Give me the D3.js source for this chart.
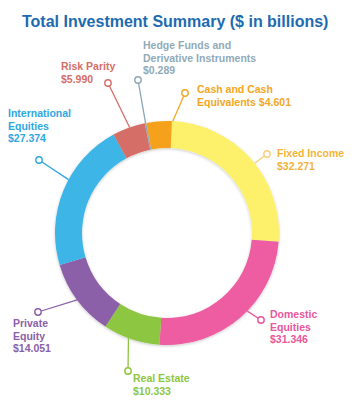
<!DOCTYPE html>
<html>
<head>
<meta charset="utf-8">
<script src="https://cdn.jsdelivr.net/npm/d3@7/dist/d3.min.js"></script>
<style>
  html, body { margin: 0; padding: 0; background: #fff; }
  svg { display: block; font-family: "Liberation Sans", Arial, sans-serif; }
</style>
</head>
<body>
<svg id="chart" width="360" height="403"></svg>
<script>
// ---- data ----
const title = "Total Investment Summary ($ in billions)";
const categories = ["Fixed Income", "Domestic Equities", "Real Estate", "Private Equity",
  "International Equities", "Risk Parity", "Hedge Funds and Derivative Instruments", "Cash and Cash Equivalents"];
const values = [32.271, 31.346, 10.333, 14.051, 27.374, 5.990, 0.289, 4.601];
const labelLines = [
  ["Fixed Income"],
  ["Domestic", "Equities"],
  ["Real Estate"],
  ["Private", "Equity"],
  ["International", "Equities"],
  ["Risk Parity"],
  ["Hedge Funds and", "Derivative Instruments"],
  ["Cash and Cash", "Equivalents"]
];
// value placement: true = own line, false = appended to last label line
const valueOnOwnLine = [true, true, true, true, true, true, true, false];

// ---- styles ----
const sliceColors = ["#FDF16C", "#EE5BA1", "#8DC63F", "#8B60A9", "#3CB6E7", "#D46E66", "#8FA9B5", "#F6A11C"];
const textColors  = ["#F5B335", "#E9579C", "#8DC63F", "#8B60A9", "#2EA8DF", "#D46E66", "#91AAB8", "#F5A623"];
const lineColors  = ["#F6CE7A", "#E9579C", "#8DC63F", "#8B60A9", "#2EA8DF", "#D46E66", "#8AA6B4", "#F5A623"];

// ---- layout ----
const cx = 167, cy = 233, outerR = 112, innerR = 85;
const startDeg = 2.5;
// label layout: text position, marker position, attachment angle tweak (deg)
const layout = [
  { tx: 277, ty: 157, mx: 267, my: 154, da: 3 },
  { tx: 270, ty: 318, mx: 261, my: 320, da: -5 },
  { tx: 133, ty: 382, mx: 128, my: 371, da: 1.5 },
  { tx: 13,  ty: 327, mx: 38,  my: 312, da: 0 },
  { tx: 8,   ty: 117, mx: 39,  my: 160, da: 6 },
  { tx: 61,  ty: 70,  mx: 108, my: 83,  da: 0.5 },
  { tx: 143, ty: 49,  mx: 138, my: 80,  da: 0 },
  { tx: 197, ty: 93,  mx: 185, my: 93,  da: 7 }
];
const lineH = 12.5;

const svg = d3.select("#chart");

const defs = svg.append("defs");
const f = defs.append("filter").attr("id", "shadow").attr("x", "-20%").attr("y", "-20%").attr("width", "140%").attr("height", "140%");
f.append("feDropShadow").attr("dx", 0).attr("dy", 1).attr("stdDeviation", 1.5)
  .attr("flood-color", "#000").attr("flood-opacity", 0.22);

svg.append("text")
  .attr("x", 22).attr("y", 27)
  .attr("fill", "#1C6BB0")
  .attr("font-size", 16).attr("font-weight", "bold")
  .text(title);

const toRad = d => d * Math.PI / 180;
const pie = d3.pie().sort(null).value(d => d)
  .startAngle(toRad(startDeg)).endAngle(toRad(startDeg) + 2 * Math.PI);
const arcs = pie(values);
const arc = d3.arc().innerRadius(innerR).outerRadius(outerR);

const g = svg.append("g").attr("transform", `translate(${cx},${cy})`);
g.append("g").attr("filter", "url(#shadow)")
  .selectAll("path").data(arcs).join("path")
  .attr("d", arc)
  .attr("fill", (d, i) => sliceColors[i]);

const fmt = d3.format("$.3f");

arcs.forEach((a, i) => {
  const L = layout[i];
  const ang = (a.startAngle + a.endAngle) / 2 + toRad(L.da);
  const sx = cx + outerR * Math.sin(ang);
  const sy = cy - outerR * Math.cos(ang);
  svg.append("line")
    .attr("x1", sx).attr("y1", sy).attr("x2", L.mx).attr("y2", L.my)
    .attr("stroke", lineColors[i]).attr("stroke-width", 1.3);
  svg.append("circle")
    .attr("cx", L.mx).attr("cy", L.my).attr("r", 3.2)
    .attr("fill", "#fff").attr("stroke", lineColors[i]).attr("stroke-width", 1.4);

  const lines = labelLines[i].slice();
  if (valueOnOwnLine[i]) lines.push(fmt(values[i]));
  else lines[lines.length - 1] += " " + fmt(values[i]);
  const t = svg.append("text")
    .attr("x", L.tx).attr("y", L.ty)
    .attr("fill", textColors[i])
    .attr("font-size", 10.5).attr("font-weight", "bold");
  lines.forEach((s, k) => {
    t.append("tspan").attr("x", L.tx).attr("y", L.ty + k * lineH).text(s);
  });
});
</script>
</body>
</html>
